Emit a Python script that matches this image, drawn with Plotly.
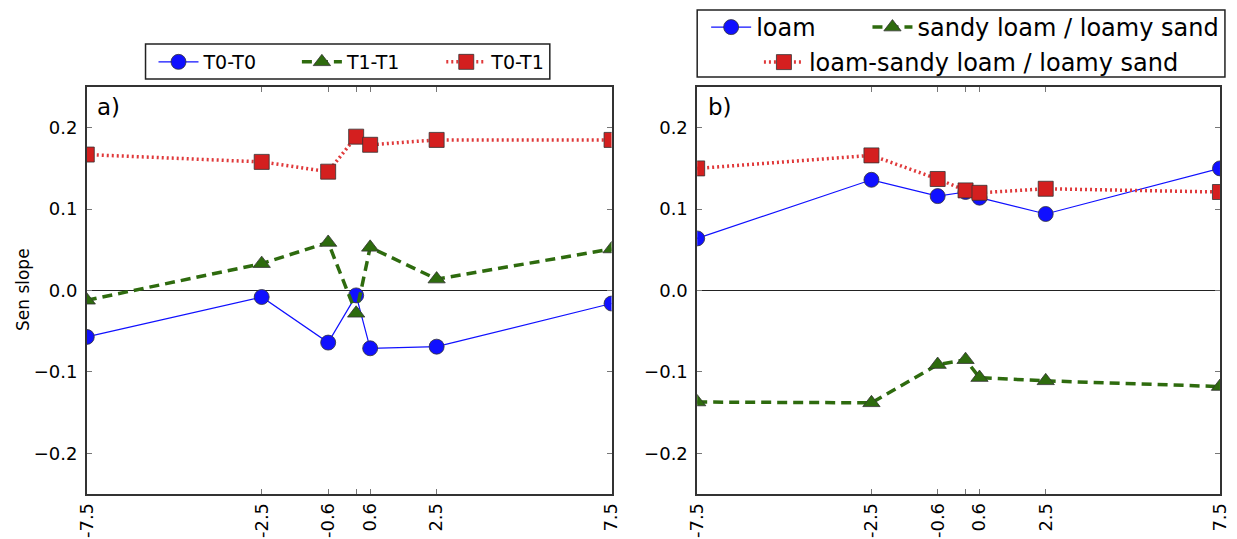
import plotly.graph_objects as go

# ---- data ----
x_vals = [-7.5, -2.5, -0.6, 0.2, 0.6, 2.5, 7.5]
x_tickvals = [-7.5, -2.5, -0.6, 0.2, 0.6, 2.5, 7.5]
x_ticktext = ["-7.5", "-2.5", "-0.6", "", "0.6", "2.5", "7.5"]
y_tickvals = [-0.2, -0.1, 0.0, 0.1, 0.2]
y_ticktext = ["\u22120.2", "\u22120.1", "0.0", "0.1", "0.2"]

# panel a
a_T0T0 = [-0.057, -0.008, -0.064, -0.006, -0.071, -0.069, -0.016]
a_T1T1 = [-0.012, 0.033, 0.059, -0.028, 0.053, 0.014, 0.051]
a_T0T1 = [0.167, 0.158, 0.146, 0.189, 0.179, 0.185, 0.185]

# panel b
b_loam = [0.064, 0.136, 0.116, 0.121, 0.114, 0.094, 0.150]
b_sandy = [-0.137, -0.138, -0.091, -0.085, -0.107, -0.111, -0.118]
b_mixed = [0.150, 0.166, 0.137, 0.123, 0.120, 0.125, 0.121]

names_a = ["T0-T0", "T1-T1", "T0-T1"]
names_b = ["loam", "sandy loam / loamy sand", "loam-sandy loam / loamy sand"]

W, H = 1237, 539
BLUE = "#1010ff"
GREEN = "#2e6b0e"
RED = "#d41f1f"
REDLINE = "#e0393a"
EDGE = "#333333"
FONT = "DejaVu Sans"


def px_x(p):
    # horizontal pixel -> paper fraction (compensates observed horizontal scaling)
    t = p / 0.9872 - 8
    return t / W


def px_y(p):
    return 1 - p / H


styles = [
    dict(line=dict(color=BLUE, width=1.2, dash="solid"),
         marker=dict(symbol="circle", size=15, color=BLUE, line=dict(color=EDGE, width=0.8))),
    dict(line=dict(color=GREEN, width=3.5, dash="10px,6px"),
         marker=dict(symbol="triangle-up", size=15, color=GREEN, line=dict(color=EDGE, width=0.8))),
    dict(line=dict(color=REDLINE, width=3.5, dash="2px,3px"),
         marker=dict(symbol="square", size=15, color=RED, line=dict(color=EDGE, width=0.8))),
]

fig = go.Figure()

leg_a = ["legend", "legend5", "legend6"]
for ys, nm, st, lg in zip([a_T0T0, a_T1T1, a_T0T1], names_a, styles, leg_a):
    fig.add_trace(go.Scatter(x=x_vals, y=ys, name=nm, mode="lines+markers",
                             xaxis="x", yaxis="y", legend=lg, **st))

leg_b = ["legend2", "legend3", "legend4"]
for ys, nm, st, lg in zip([b_loam, b_sandy, b_mixed], names_b, styles, leg_b):
    fig.add_trace(go.Scatter(x=x_vals, y=ys, name=nm, mode="lines+markers",
                             xaxis="x2", yaxis="y2", legend=lg, **st))

xa_common = dict(range=[-7.5, 7.5], tickvals=x_tickvals, ticktext=x_ticktext,
                 tickangle=-90, ticks="inside", ticklen=5, tickcolor="#777",
                 mirror="allticks", showline=True, linecolor="#333", linewidth=1.5,
                 showgrid=False, zeroline=False,
                 tickfont=dict(family=FONT, size=18, color="#000"))
ya_common = dict(range=[-0.25, 0.25], tickvals=y_tickvals, ticktext=y_ticktext,
                 ticks="inside", ticklen=5, tickcolor="#777",
                 mirror="allticks", showline=True, linecolor="#333", linewidth=1.5,
                 showgrid=False, zeroline=True, zerolinecolor="#222", zerolinewidth=1.2,
                 tickfont=dict(family=FONT, size=18, color="#000"), ticklabelstandoff=4)

leg_base = dict(xanchor="left", yanchor="top", orientation="h", borderwidth=0,
                bgcolor="rgba(0,0,0,0)", itemwidth=40)
fa = dict(family=FONT, size=19)
fb = dict(family=FONT, size=24)

dom_y = [px_y(494), px_y(87)]
fig.update_layout(
    width=W, height=H,
    margin=dict(l=0, r=0, t=0, b=0),
    paper_bgcolor="white", plot_bgcolor="white",
    font=dict(family=FONT, color="#000"),
    xaxis=dict(domain=[px_x(84), px_x(611)], anchor="y", **xa_common),
    yaxis=dict(domain=dom_y, anchor="x", **ya_common),
    xaxis2=dict(domain=[px_x(697), px_x(1222)], anchor="y2", **xa_common),
    yaxis2=dict(domain=dom_y, anchor="x2", **ya_common),
    legend=dict(x=px_x(151), y=px_y(43), font=fa, **leg_base),
    legend5=dict(x=px_x(295), y=px_y(43), font=fa, **leg_base),
    legend6=dict(x=px_x(440), y=px_y(43), font=fa, **leg_base),
    legend2=dict(x=px_x(706), y=px_y(5), font=fb, **leg_base),
    legend3=dict(x=px_x(868), y=px_y(5), font=fb, **leg_base),
    legend4=dict(x=px_x(759), y=px_y(40), font=fb, **leg_base),
    showlegend=True,
)

# legend frames
fig.add_shape(type="rect", xref="paper", yref="paper",
              x0=px_x(143), x1=px_x(549), y0=px_y(79), y1=px_y(44),
              line=dict(color="#222", width=1.5), fillcolor="rgba(0,0,0,0)")
fig.add_shape(type="rect", xref="paper", yref="paper",
              x0=px_x(697), x1=px_x(1227), y0=px_y(77), y1=px_y(10),
              line=dict(color="#222", width=1.5), fillcolor="rgba(0,0,0,0)")

fig.add_annotation(text="Sen slope", textangle=-90, xref="paper", yref="paper",
                   x=px_x(20), y=px_y(290), xanchor="center", yanchor="middle",
                   showarrow=False, font=dict(family=FONT, size=17))
fig.add_annotation(text="a)", xref="paper", yref="paper", x=px_x(92), y=px_y(107),
                   xanchor="left", yanchor="middle", showarrow=False,
                   font=dict(family=FONT, size=23))
fig.add_annotation(text="b)", xref="paper", yref="paper", x=px_x(706), y=px_y(107),
                   xanchor="left", yanchor="middle", showarrow=False,
                   font=dict(family=FONT, size=23))

fig.write_html("out.html")
